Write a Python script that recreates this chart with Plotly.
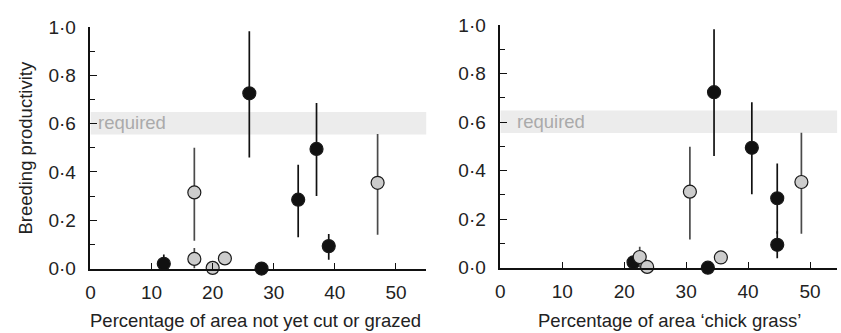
import plotly.graph_objects as go

# ---- data ----
# Left panel: percentage of area not yet cut or grazed
L_black_x = [12, 26, 28, 34, 37, 39]
L_black_y = [0.02, 0.725, 0.0, 0.285, 0.495, 0.093]
L_black_lo = [-0.015, 0.46, 0.0, 0.13, 0.30, 0.037]
L_black_hi = [0.058, 0.982, 0.0, 0.43, 0.685, 0.143]

L_grey_x = [17, 17, 20, 22, 47]
L_grey_y = [0.315, 0.04, 0.003, 0.042, 0.355]
L_grey_lo = [0.115, 0.0, 0.003, 0.025, 0.14]
L_grey_hi = [0.50, 0.085, 0.003, 0.055, 0.557]

# Right panel: percentage of area 'chick grass'
R_black_x = [21.5, 34.5, 33.5, 40.6, 44.7, 44.7]
R_black_y = [0.022, 0.723, 0.0, 0.494, 0.286, 0.094]
R_black_lo = [0.0, 0.46, 0.0, 0.302, 0.14, 0.039]
R_black_hi = [0.04, 0.982, 0.0, 0.682, 0.429, 0.15]

R_grey_x = [22.5, 23.7, 30.6, 35.6, 48.6]
R_grey_y = [0.044, 0.003, 0.313, 0.042, 0.353]
R_grey_lo = [0.0, 0.003, 0.116, 0.03, 0.14]
R_grey_hi = [0.086, 0.003, 0.498, 0.05, 0.556]

required_lo = 0.555
required_hi = 0.648

x_ticks = [0, 10, 20, 30, 40, 50]
y_ticks = [0.0, 0.2, 0.4, 0.6, 0.8, 1.0]
y_ticktext = ["0·0", "0·2", "0·4", "0·6", "0·8", "1·0"]

x_title_left = "Percentage of area not yet cut or grazed"
x_title_right = "Percentage of area \u2018chick grass\u2019"
y_title = "Breeding productivity"

W, H = 841, 333
FONT = "Liberation Sans, Arial, Helvetica, sans-serif"


def err(y, lo, hi):
    return [h - v for v, h in zip(y, hi)], [v - l for v, l in zip(y, lo)]


fig = go.Figure()


def add_series(x, y, lo, hi, xa, ya, fill, ecol):
    plus, minus = err(y, lo, hi)
    fig.add_trace(go.Scatter(
        x=x, y=y, mode="markers", xaxis=xa, yaxis=ya, cliponaxis=False,
        marker=dict(size=13, color=fill, line=dict(color="#1a1a1a", width=1.2)),
        error_y=dict(type="data", symmetric=False, array=plus, arrayminus=minus,
                     color=ecol, thickness=1.7, width=0),
        showlegend=False, hoverinfo="x+y"))


add_series(L_black_x, L_black_y, L_black_lo, L_black_hi, "x", "y", "#111111", "#111111")
add_series(L_grey_x, L_grey_y, L_grey_lo, L_grey_hi, "x", "y", "#cccccc", "#4a4a4a")
add_series(R_black_x, R_black_y, R_black_lo, R_black_hi, "x2", "y2", "#111111", "#111111")
add_series(R_grey_x, R_grey_y, R_grey_lo, R_grey_hi, "x2", "y2", "#cccccc", "#4a4a4a")

axis_common = dict(showline=True, linecolor="#111111", linewidth=1.5,
                   showgrid=False, zeroline=False, ticks="inside",
                   tickcolor="#111111", tickwidth=1.3,
                   tickfont=dict(family=FONT, size=19, color="#222222"))

xa_left = dict(domain=[86 / W, 424 / W], range=[0, 55], tickvals=x_ticks, ticklen=6,
               anchor="y", ticklabelstandoff=6, **axis_common)
xa_right = dict(domain=[498.3 / W, 837.3 / W], range=[0, 54.4], tickvals=x_ticks, ticklen=6,
                anchor="y2", ticklabelstandoff=6, **axis_common)
ya_left = dict(domain=[(H - 276) / H, (H - 18) / H], range=[0, 1], tickvals=y_ticks,
               ticktext=y_ticktext, ticklen=7, anchor="x", ticklabelstandoff=9,
               minor=dict(dtick=0.1, ticks="inside", ticklen=5, tickcolor="#111111", tickwidth=1.2),
               **axis_common)
ya_right = dict(domain=[(H - 275) / H, (H - 16) / H], range=[0, 1], tickvals=y_ticks,
                ticktext=y_ticktext, ticklen=7, anchor="x2", ticklabelstandoff=9,
                minor=dict(dtick=0.1, ticks="inside", ticklen=5, tickcolor="#111111", tickwidth=1.2),
                **axis_common)

fig.update_layout(
    width=W, height=H, margin=dict(l=0, r=0, t=0, b=0),
    paper_bgcolor="white", plot_bgcolor="white",
    xaxis=xa_left, xaxis2=xa_right, yaxis=ya_left, yaxis2=ya_right,
    font=dict(family=FONT, color="#222222"),
)

# required band
fig.add_shape(type="rect", xref="x", yref="y", x0=0, x1=55, y0=required_lo, y1=required_hi,
              fillcolor="#ececec", line=dict(width=0), layer="below")
fig.add_shape(type="rect", xref="x2", yref="y2", x0=0, x1=54.4, y0=required_lo, y1=required_hi,
              fillcolor="#ececec", line=dict(width=0), layer="below")

fig.add_annotation(x=0.9, y=0.604, xref="x", yref="y", text="required", showarrow=False,
                   xanchor="left", yanchor="middle",
                   font=dict(family=FONT, size=18.5, color="#aaaaaa"))
fig.add_annotation(x=2.35, y=0.604, xref="x2", yref="y2", text="required", showarrow=False,
                   xanchor="left", yanchor="middle",
                   font=dict(family=FONT, size=18.5, color="#aaaaaa"))

# axis titles
fig.add_annotation(x=(87 + 418) / 2 / W, y=(H - 331) / H, xref="paper", yref="paper",
                   text=x_title_left, showarrow=False, xanchor="center", yanchor="middle",
                   font=dict(family=FONT, size=18.5, color="#222222"))
fig.add_annotation(x=(535 + 801) / 2 / W, y=(H - 331) / H, xref="paper", yref="paper",
                   text=x_title_right, showarrow=False, xanchor="center", yanchor="middle",
                   font=dict(family=FONT, size=18.5, color="#222222"))
fig.add_annotation(x=21 / W, y=(H - 147) / H, xref="paper", yref="paper",
                   text=y_title, showarrow=False, textangle=-90, xanchor="center", yanchor="middle",
                   font=dict(family=FONT, size=18.5, color="#222222"))

fig.write_html("out.html")
